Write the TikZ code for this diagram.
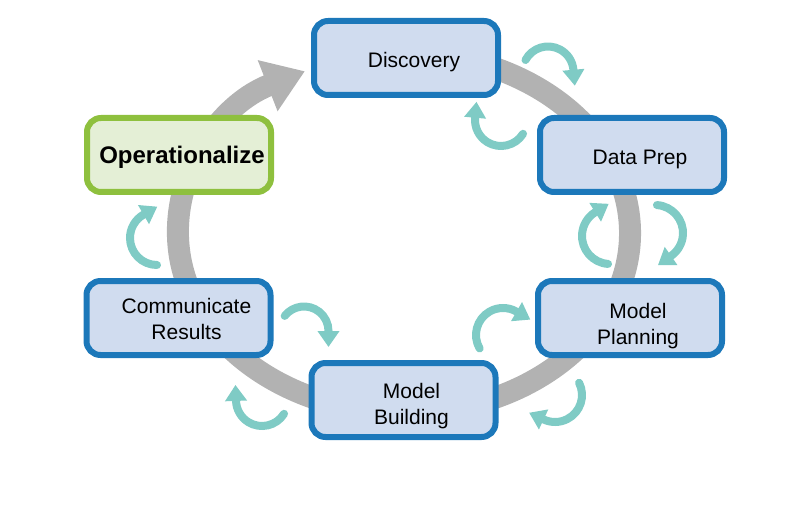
\documentclass[tikz,border=0pt]{standalone}
\usepackage{fontspec}
\setmainfont{Liberation Sans}
\usepackage{xcolor}
\usepackage{tikz}
\usetikzlibrary{arrows.meta}
\definecolor{boxblue}{RGB}{28,120,186}
\definecolor{boxfill}{RGB}{208,220,239}
\definecolor{boxgreen}{RGB}{142,192,62}
\definecolor{greenfill}{RGB}{228,239,214}
\definecolor{ringgray}{RGB}{178,178,178}
\definecolor{spin}{RGB}{127,203,197}
\tikzset{bx/.style={draw=boxblue, fill=boxfill, line width=6pt, rounded corners=14pt, minimum width=184pt, minimum height=74pt},
  lbl/.style={xshift=8pt, yshift=-4pt, align=center, font=\fontsize{21}{26}\selectfont},
  cyc/.style={draw=spin, line width=8pt, line cap=round, -{Triangle[length=16pt, width=21pt]}},
  band/.style={draw=ringgray, line width=22pt, -{Triangle[length=40pt, width=52pt]}}}

\begin{document}
\begin{tikzpicture}[x=1pt, y=1pt]
  \useasboundingbox (0,0) rectangle (791,517);

  % Cycle
  \coordinate (mid) at (404,284);
  \draw[band] (mid) ++(100:226pt and 180pt) arc[start angle=100, end angle=-244, x radius=226pt, y radius=180pt];

  % Phases
  \node[bx, label={[lbl]center:Discovery}] (disc) at (406,459) {};
  \node[bx, label={[lbl]center:Data Prep}] (prep) at (632,362) {};
  \node[bx, label={[lbl, yshift=-3.6pt]center:Model\\Planning}] (plan) at (630,199) {};
  \node[bx, label={[lbl, yshift=-1.6pt]center:Model\\Building}] (build) at (403.5,117) {};
  \node[bx, label={[lbl, yshift=3.5pt]center:Communicate\\Results}] (comm) at (178.5,199) {};
  \node[bx, draw=boxgreen, fill=greenfill,
    label={[lbl, xshift=-5pt, yshift=1.5pt, font=\fontsize{24}{28}\selectfont\bfseries]center:Operationalize}] (oper) at (179,362) {};

  % Small loops
  \coordinate (c1) at (548,445);
  \coordinate (c2) at (501,397);
  \coordinate (c3) at (655,284);
  \coordinate (c4) at (610,281);
  \coordinate (c5) at (555,122);
  \coordinate (c6) at (503,182);
  \coordinate (c7) at (304,186);
  \coordinate (c8) at (262,117);
  \coordinate (c9) at (157,279);
  \draw[cyc] (c1) ++(152:25.5pt) arc[start angle=152, end angle=5, radius=25.5pt] -- ++(-85:16pt);
  \draw[cyc] (c2) ++(-32:26pt) arc[start angle=-32, end angle=-185, radius=26pt] -- ++(85:16pt);
  \draw[cyc] (c3) ++(86:28pt) arc[start angle=86, end angle=-55, radius=28pt] -- ++(-145:16pt);
  \draw[cyc] (c4) ++(-94:28pt) arc[start angle=-94, end angle=-238, radius=28pt] -- ++(32:16pt);
  \draw[cyc] (c5) ++(27:27pt) arc[start angle=27, end angle=-115, radius=27pt] -- ++(155:16pt);
  \draw[cyc] (c6) ++(210:27pt) arc[start angle=210, end angle=60, radius=27pt] -- ++(-30:16pt);
  \draw[cyc] (c7) ++(142:24.5pt) arc[start angle=142, end angle=0, radius=24.5pt] -- ++(-90:16pt);
  \draw[cyc] (c8) ++(-32:26pt) arc[start angle=-32, end angle=-178, radius=26pt] -- ++(92:16pt);
  \draw[cyc] (c9) ++(-90:27pt) arc[start angle=-90, end angle=-240, radius=27pt] -- ++(30:16pt);
\end{tikzpicture}
\end{document}
